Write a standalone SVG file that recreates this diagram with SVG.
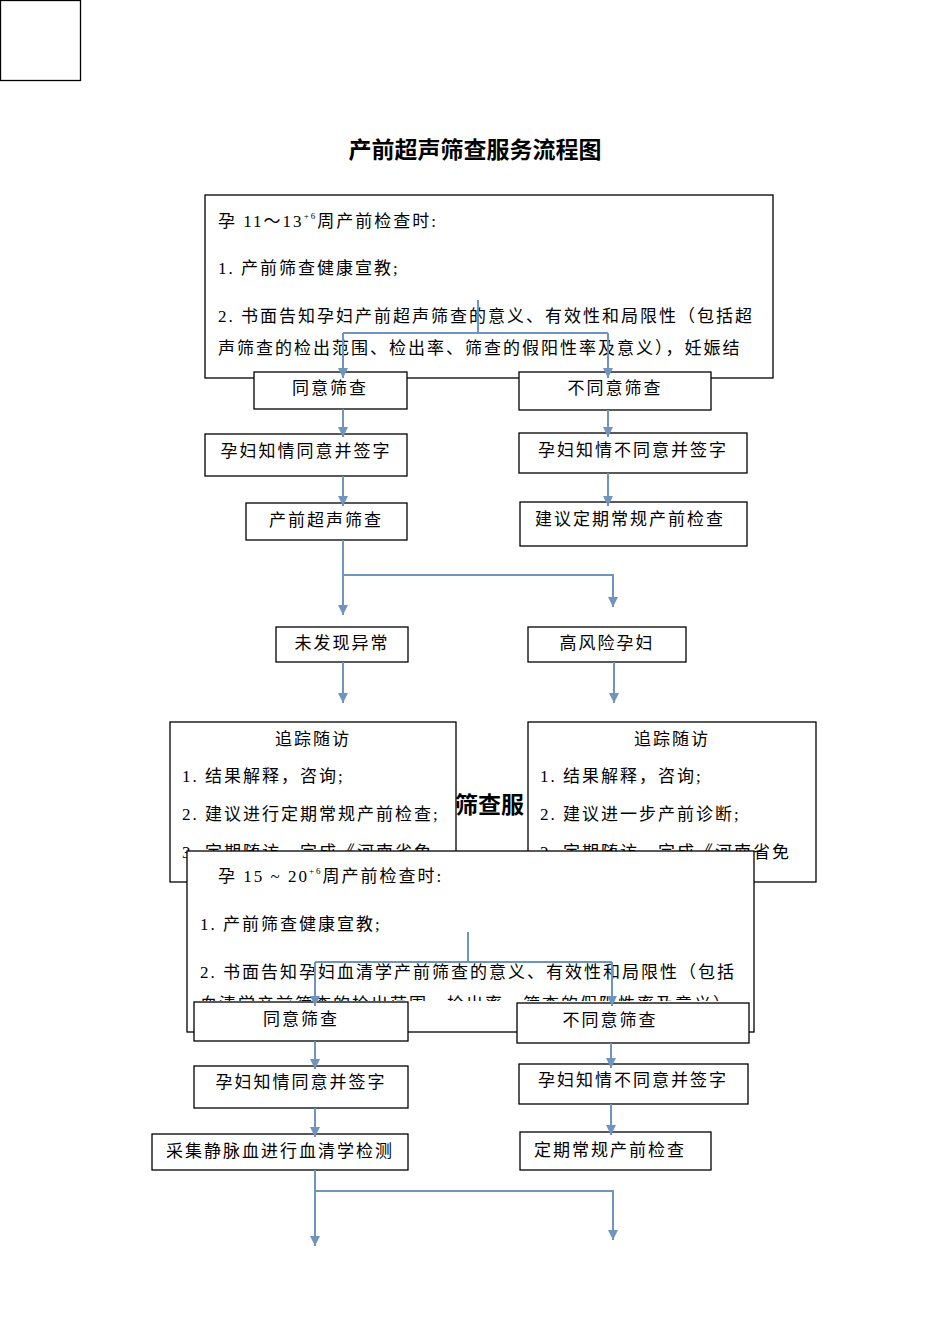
<svg xmlns="http://www.w3.org/2000/svg" width="950" height="1344" viewBox="0 0 950 1344">
<style>
.b{fill:#fff;stroke:#000;stroke-width:1.3}
.t{font-family:"Liberation Serif","Noto Sans CJK SC",serif;font-size:17px;fill:#000;letter-spacing:2px}
.c{fill:none;stroke:#6f94bd;stroke-width:2}
</style>
<defs>
<marker id="d" markerWidth="10" markerHeight="10" refX="10" refY="5" orient="auto" markerUnits="userSpaceOnUse"><path d="M0,0 L10,5 L0,10 Z" fill="#6f94bd"/></marker>
<clipPath id="c1"><rect x="205" y="195" width="568" height="183"/></clipPath>
<clipPath id="c3"><rect x="187" y="851" width="567" height="150"/></clipPath>
</defs>
<rect x="0.5" y="0.5" width="80" height="80" class="b"/>
<text x="475" y="158" text-anchor="middle" style="font-family:'Noto Sans CJK SC',sans-serif;font-size:23px;font-weight:bold">产前超声筛查服务流程图</text>
<text x="455" y="813" style="font-family:'Noto Sans CJK SC',sans-serif;font-size:23px;font-weight:bold">筛查服</text>
<g id="n1"><rect x="205" y="195" width="568" height="183" class="b"/>
<g clip-path="url(#c1)" class="t">
<text x="218" y="227">孕 11～13<tspan font-size="9" dy="-8">+6</tspan><tspan dy="8">周产前检查时:</tspan></text>
<text x="218" y="274">1. 产前筛查健康宣教;</text>
<text x="218" y="322">2. 书面告知孕妇产前超声筛查的意义、有效性和局限性（包括超</text>
<text x="218" y="354">声筛查的检出范围、检出率、筛查的假阳性率及意义），妊娠结</text>
</g></g>
<g id="n2"><rect x="254" y="372" width="153" height="37" class="b"/><text x="330" y="394" text-anchor="middle" class="t">同意筛查</text></g>
<g id="n3"><rect x="519" y="372" width="192" height="38" class="b"/><text x="615" y="394" text-anchor="middle" class="t">不同意筛查</text></g>
<g id="n4"><rect x="205" y="434" width="202" height="42" class="b"/><text x="306" y="457" text-anchor="middle" class="t">孕妇知情同意并签字</text></g>
<g id="n5"><rect x="519" y="433" width="228" height="40" class="b"/><text x="633" y="456" text-anchor="middle" class="t">孕妇知情不同意并签字</text></g>
<g id="n6"><rect x="246" y="503" width="161" height="37" class="b"/><text x="326" y="526" text-anchor="middle" class="t">产前超声筛查</text></g>
<g id="n7"><rect x="520" y="502" width="227" height="44" class="b"/><text x="630" y="525" text-anchor="middle" class="t">建议定期常规产前检查</text></g>
<g id="n8"><rect x="276" y="627" width="132" height="35" class="b"/><text x="342" y="649" text-anchor="middle" class="t">未发现异常</text></g>
<g id="n9"><rect x="528" y="627" width="158" height="35" class="b"/><text x="607" y="649" text-anchor="middle" class="t">高风险孕妇</text></g>
<g id="n10"><rect x="170" y="722" width="286" height="160" class="b"/>
<g class="t"><text x="313" y="745" text-anchor="middle">追踪随访</text>
<text x="182" y="782">1. 结果解释，咨询;</text>
<text x="182" y="820">2. 建议进行定期常规产前检查;</text>
<text x="182" y="858">3. 定期随访，完成《河南省免</text></g></g>
<g id="n11"><rect x="528" y="722" width="288" height="160" class="b"/>
<g class="t"><text x="672" y="745" text-anchor="middle">追踪随访</text>
<text x="540" y="782">1. 结果解释，咨询;</text>
<text x="540" y="820">2. 建议进一步产前诊断;</text>
<text x="540" y="858">3. 定期随访，完成《河南省免</text></g></g>
<g id="n12"><rect x="187" y="851" width="567" height="181" class="b"/>
<g clip-path="url(#c3)" class="t">
<text x="218" y="882">孕 15 ~ 20<tspan font-size="9" dy="-8">+6</tspan><tspan dy="8">周产前检查时:</tspan></text>
<text x="200" y="930">1. 产前筛查健康宣教;</text>
<text x="200" y="978">2. 书面告知孕妇血清学产前筛查的意义、有效性和局限性（包括</text>
<text x="200" y="1010">血清学产前筛查的检出范围、检出率、筛查的假阳性率及意义），</text>
</g></g>
<g id="n13"><rect x="194" y="1002" width="214" height="39" class="b"/><text x="301" y="1025" text-anchor="middle" class="t">同意筛查</text></g>
<g id="n14"><rect x="517" y="1003" width="232" height="40" class="b"/><text x="610" y="1026" text-anchor="middle" class="t">不同意筛查</text></g>
<g id="n15"><rect x="194" y="1066" width="214" height="42" class="b"/><text x="301" y="1088" text-anchor="middle" class="t">孕妇知情同意并签字</text></g>
<g id="n16"><rect x="519" y="1064" width="229" height="40" class="b"/><text x="633" y="1086" text-anchor="middle" class="t">孕妇知情不同意并签字</text></g>
<g id="n17"><rect x="152" y="1134" width="256" height="36" class="b"/><text x="280" y="1157" text-anchor="middle" class="t">采集静脉血进行血清学检测</text></g>
<g id="n18"><rect x="520" y="1132" width="191" height="38" class="b"/><text x="610" y="1156" text-anchor="middle" class="t">定期常规产前检查</text></g>
<g id="connectors" class="c">
<path d="M478,300 V333"/><path d="M343,333 H608"/>
<path d="M343,333 V378" marker-end="url(#d)"/><path d="M608,333 V378" marker-end="url(#d)"/>
<path d="M343,409 V437" marker-end="url(#d)"/><path d="M608,410 V437" marker-end="url(#d)"/>
<path d="M343,476 V506" marker-end="url(#d)"/><path d="M608,473 V506" marker-end="url(#d)"/>
<path d="M343,540 V615" marker-end="url(#d)"/><path d="M343,575 H613 V607" marker-end="url(#d)"/>
<path d="M343,662 V703" marker-end="url(#d)"/><path d="M614,662 V703" marker-end="url(#d)"/>
<path d="M468,932 V962"/><path d="M315,962 H612"/>
<path d="M315,962 V1006" marker-end="url(#d)"/><path d="M612,962 V1006" marker-end="url(#d)"/>
<path d="M315,1041 V1069" marker-end="url(#d)"/><path d="M611,1043 V1068" marker-end="url(#d)"/>
<path d="M315,1108 V1137" marker-end="url(#d)"/><path d="M611,1104 V1135" marker-end="url(#d)"/>
<path d="M315,1170 V1246" marker-end="url(#d)"/><path d="M315,1191 H613 V1240" marker-end="url(#d)"/>
</g>
</svg>
